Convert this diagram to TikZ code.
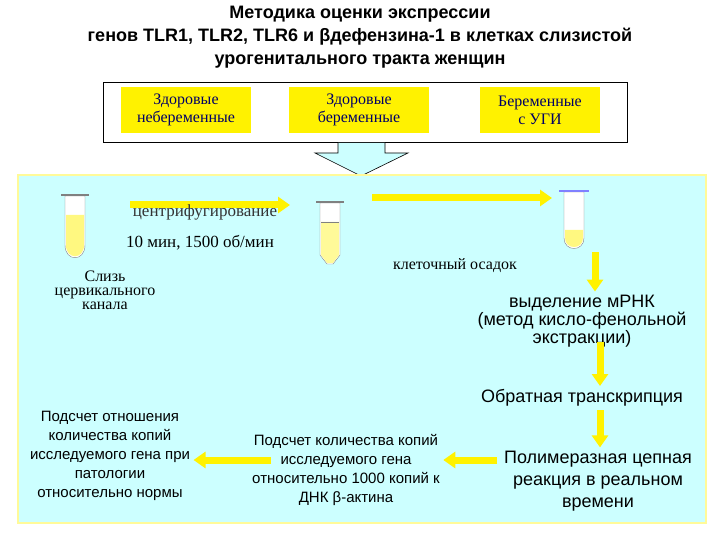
\documentclass[tikz,border=0pt]{standalone}
\usetikzlibrary{arrows.meta}
\usepackage{fontspec}
\setmainfont{Liberation Serif}
\newfontfamily\sans{Liberation Sans}
\definecolor{lc}{HTML}{CCFFFF}
\begin{document}
\begin{tikzpicture}[x=1pt,y=-1pt,
 yb/.style={fill=yellow,inner sep=0,minimum width=#1,minimum height=46,align=center,font=\fontsize{16}{18}\selectfont,text=blue!40!black},
 st/.style={align=center,font=\sans\fontsize{#1}{#1}\selectfont},
 sr/.style={align=center,font=\fontsize{#1}{#1}\selectfont},
 ya/.style={-{Triangle[length=12,width=16]},line width=7,draw=yellow}]
\useasboundingbox (0,0) rectangle (720,540);
\node[font=\sans\bfseries\fontsize{18}{23}\selectfont,align=center] (title) at (360,37) {Методика оценки экспрессии\\генов TLR1, TLR2, TLR6 и βдефензина-1 в клетках слизистой\\урогенитального тракта женщин};
\draw[fill=white,line width=1] (103,83) rectangle (627,143);
\node[yb=130] (g1) at (186,110) {Здоровые\\небеременные};
\node[yb=140] (g2) at (359,110) {Здоровые\\беременные};
\node[yb=120] (g3) at (540,110) {Беременные\\с УГИ};
\draw[fill=lc,line width=0.6] (338,143) -- (338,153) -- (315,153) -- (361,176) -- (408,153) -- (385,153) -- (385,143);
\draw[fill=lc,draw=yellow!40,line width=1.5] (18,175) rectangle (706,523);
% tubes
\draw[gray,fill=white] (65,196) -- (85,196) -- (85,245) .. controls (85,262) and (65,262) .. (65,245) -- cycle;
\fill[yellow!50] (66,215) -- (84,215) -- (84,245) .. controls (84,260) and (66,260) .. (66,245) -- cycle;
\draw[gray,line width=1.2] (61,195) -- (89,195);
\draw[gray,fill=white] (320,203) -- (340,203) -- (340,255) -- (333,264) -- (327,264) -- (320,255) -- cycle;
\fill[yellow!40] (321,222) -- (339,222) -- (339,255) -- (333,263) -- (327,263) -- (321,255) -- cycle;
\draw[gray] (321,222) -- (339,222);
\draw[gray,line width=1.2] (316,202) -- (344,202);
\draw[gray,fill=white] (564,192) -- (584,192) -- (584,238) .. controls (584,252) and (564,252) .. (564,238) -- cycle;
\fill[yellow!50] (565,230) -- (583,230) -- (583,238) .. controls (583,250) and (565,250) .. (565,238) -- cycle;
\draw[blue!50,line width=2] (559,191) -- (589,191);
% arrows
\coordinate (a1s) at (130,205); \coordinate (a1e) at (290,205);
\coordinate (a2s) at (372,198); \coordinate (a2e) at (552,198);
\draw[ya] (a1s) -- (a1e);
\draw[ya] (a2s) -- (a2e);
\node[sr=17,text=black!80] (cf) at (205,212) {центрифугирование};
\node[sr=17] (rpm) at (200,243) {10 мин, 1500 об/мин};
\node[sr=16] (os) at (455,266) {клеточный осадок};
\node[sr=16,font=\fontsize{16}{14}\selectfont] (sl) at (105,290) {Слизь\\цервикального\\канала};
\node[st=18,font=\sans\fontsize{18}{16}\selectfont] (rna) at (582,321) {выделение мРНК\\(метод кисло-фенольной\\экстракции)};
\node[st=18] (rt) at (582,398) {Обратная транскрипция};
\node[st=18,font=\sans\fontsize{18}{22}\selectfont] (pcr) at (598,481) {Полимеразная цепная\\реакция в реальном\\времени};
\node[st=15,font=\sans\fontsize{15}{19}\selectfont] (cnt) at (346,470) {Подсчет количества копий\\исследуемого гена\\относительно 1000 копий к\\ДНК β-актина};
\node[st=15,font=\sans\fontsize{15}{19}\selectfont] (rat) at (110,456) {Подсчет отношения\\количества копий\\исследуемого гена при\\патологии\\относительно нормы};
\draw[ya] (595,252) -- (rna.north-|595,0);
\draw[ya] (600,342) -- (rt.north-|600,0);
\draw[ya] (600,410) -- (pcr.north-|600,0);
\draw[ya] (497,460) -- (cnt.east|-0,460);
\draw[ya] (271,460) -- (rat.east|-0,460);
\end{tikzpicture}
\end{document}
